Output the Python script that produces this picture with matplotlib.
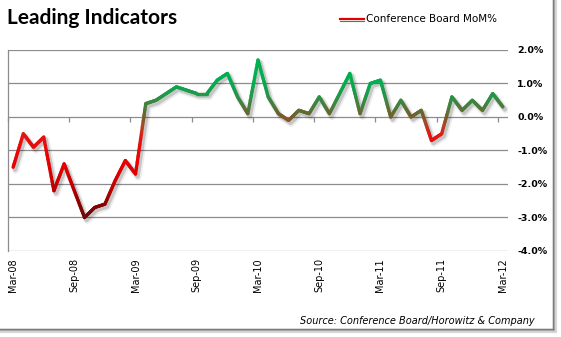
import numpy as np
import matplotlib
matplotlib.use('Agg')
import matplotlib.pyplot as plt
import matplotlib.transforms as mtransforms
from matplotlib.collections import LineCollection
from matplotlib.colors import LinearSegmentedColormap
from matplotlib.lines import Line2D

# Conference Board leading indicators, month-over-month % change, Mar-08 .. Mar-12
months = ['Mar-08', 'Apr-08', 'May-08', 'Jun-08', 'Jul-08', 'Aug-08', 'Sep-08', 'Oct-08',
          'Nov-08', 'Dec-08', 'Jan-09', 'Feb-09', 'Mar-09', 'Apr-09', 'May-09', 'Jun-09',
          'Jul-09', 'Aug-09', 'Sep-09', 'Oct-09', 'Nov-09', 'Dec-09', 'Jan-10', 'Feb-10',
          'Mar-10', 'Apr-10', 'May-10', 'Jun-10', 'Jul-10', 'Aug-10', 'Sep-10', 'Oct-10',
          'Nov-10', 'Dec-10', 'Jan-11', 'Feb-11', 'Mar-11', 'Apr-11', 'May-11', 'Jun-11',
          'Jul-11', 'Aug-11', 'Sep-11', 'Oct-11', 'Nov-11', 'Dec-11', 'Jan-12', 'Feb-12',
          'Mar-12']
mom_pct = [-1.5, -0.5, -0.9, -0.6, -2.2, -1.4, -2.2, -3.0,
           -2.7, -2.6, -1.9, -1.3, -1.7, 0.4, 0.5, 0.7,
           0.9, 0.8, 0.7, 0.7, 1.1, 1.3, 0.6, 0.1,
           1.7, 0.6, 0.1, -0.1, 0.2, 0.1, 0.6, 0.1,
           0.7, 1.3, 0.1, 1.0, 1.1, 0.0, 0.5, 0.0,
           0.2, -0.7, -0.5, 0.6, 0.2, 0.5, 0.2, 0.7,
           0.3]
y_ticks = [2, 1, 0, -1, -2, -3, -4]
label_every = 6

# colour ramp keyed on the value of the line
ramp_vals = [-3.0, -2.6, -2.0, -1.4, -0.6, -0.2, 0.0, 0.3, 0.7, 1.1, 1.7]
ramp_cols = ['#6e0a0a', '#8c0000', '#c80000', '#e80000', '#e81010', '#a84a22',
             '#7a5a2a', '#4e7a3a', '#1e9a4a', '#00b050', '#00b050']
lo, hi = ramp_vals[0], ramp_vals[-1]
cmap = LinearSegmentedColormap.from_list(
    'lei', [((v - lo) / (hi - lo), c) for v, c in zip(ramp_vals, ramp_cols)])

W, H = 561, 337
fig = plt.figure(figsize=(W / 100, H / 100), dpi=100)
fig.patch.set_facecolor('white')
ax = fig.add_axes([8 / W, 1 - 251 / H, 500 / W, 201 / H])

x = np.arange(len(mom_pct))
y = np.array(mom_pct, dtype=float)

# soft drop shadow under the line
for lw, a, dx, dy in [(5.0, 0.07, 2.5, -3.0), (3.2, 0.16, 2.0, -2.5)]:
    off = mtransforms.ScaledTranslation(dx / 100, dy / 100, fig.dpi_scale_trans)
    ax.plot(x, y, color='black', lw=lw, alpha=a, solid_capstyle='round',
            solid_joinstyle='round', transform=ax.transData + off, zorder=2)

# gradient line: split each monthly segment into short pieces
segs, vals = [], []
t = np.linspace(0, 1, 13)
for i in range(len(y) - 1):
    xs = x[i] + t
    ys = y[i] + t * (y[i + 1] - y[i])
    for j in range(len(t) - 1):
        segs.append([(xs[j], ys[j]), (xs[j + 1], ys[j + 1])])
        vals.append((ys[j] + ys[j + 1]) / 2)
lc = LineCollection(segs, colors=cmap((np.array(vals) - lo) / (hi - lo)),
                    linewidths=2.4, capstyle='round', joinstyle='round', zorder=3)
ax.add_collection(lc)

ax.set_xlim(-0.5, len(y) - 0.5)
ax.set_ylim(-4, 2)

grid_col = '#8c8c8c'
for v in y_ticks:
    ax.axhline(v, color=grid_col, lw=0.9, zorder=1)
for s in ['top', 'right', 'bottom']:
    ax.spines[s].set_visible(False)
ax.spines['left'].set_color(grid_col)
ax.spines['left'].set_linewidth(0.9)

ax.yaxis.tick_right()
ax.set_yticks(y_ticks)
ax.set_yticklabels([f'{v:.1f}%' for v in y_ticks], fontsize=6.8, fontweight='bold')
ax.tick_params(axis='y', length=0, pad=6.5)

ax.set_xticks(x[::label_every])
ax.set_xticklabels(months[::label_every], rotation=90, fontsize=7)
ax.tick_params(axis='x', length=0, pad=5)

# small category ticks sitting on the 0% line
zero_axis = ax.secondary_xaxis(4 / 6)
zero_axis.spines['top'].set_visible(False)
zero_axis.set_xticks(x[::label_every] - 0.5)
zero_axis.tick_params(axis='x', direction='in', length=3.5, width=0.9, color=grid_col,
                      labeltop=False, labelbottom=False)

# title, legend and source
fig.text(7 / W, 1 - 23.5 / H, 'Leading Indicators', fontsize=15, fontweight='bold',
         family='Lato', va='baseline', ha='left')
fig.add_artist(Line2D([340 / W, 364 / W], [1 - 18.8 / H] * 2, transform=fig.transFigure,
                      color='#e00000', lw=1.6))
fig.add_artist(Line2D([340 / W, 364 / W], [1 - 20.6 / H] * 2, transform=fig.transFigure,
                      color='#00a050', lw=0.8))
fig.text(366 / W, 1 - 19.5 / H, 'Conference Board MoM%', fontsize=7.5, va='center', ha='left')
fig.text(535 / W, 1 - 321 / H, 'Source: Conference Board/Horowitz & Company',
         fontsize=7, style='italic', va='center', ha='right')

# chart frame with shadow on right and bottom
fy = 1 - 329 / H
fx = 553 / W
for lw, col, d in [(3.0, '#d8d8d8', 2.0), (1.6, '#b0b0b0', 1.0)]:
    fig.add_artist(Line2D([fx + d / W] * 2, [fy - d / H, 1.0], transform=fig.transFigure,
                          color=col, lw=lw))
    fig.add_artist(Line2D([0, fx + d / W], [fy - d / H] * 2, transform=fig.transFigure,
                          color=col, lw=lw))
fig.add_artist(Line2D([fx] * 2, [fy, 1.0], transform=fig.transFigure, color='#7a7a7a', lw=1.0))
fig.add_artist(Line2D([0, fx], [fy] * 2, transform=fig.transFigure, color='#7a7a7a', lw=1.0))

fig.savefig('out.png', dpi=100)
